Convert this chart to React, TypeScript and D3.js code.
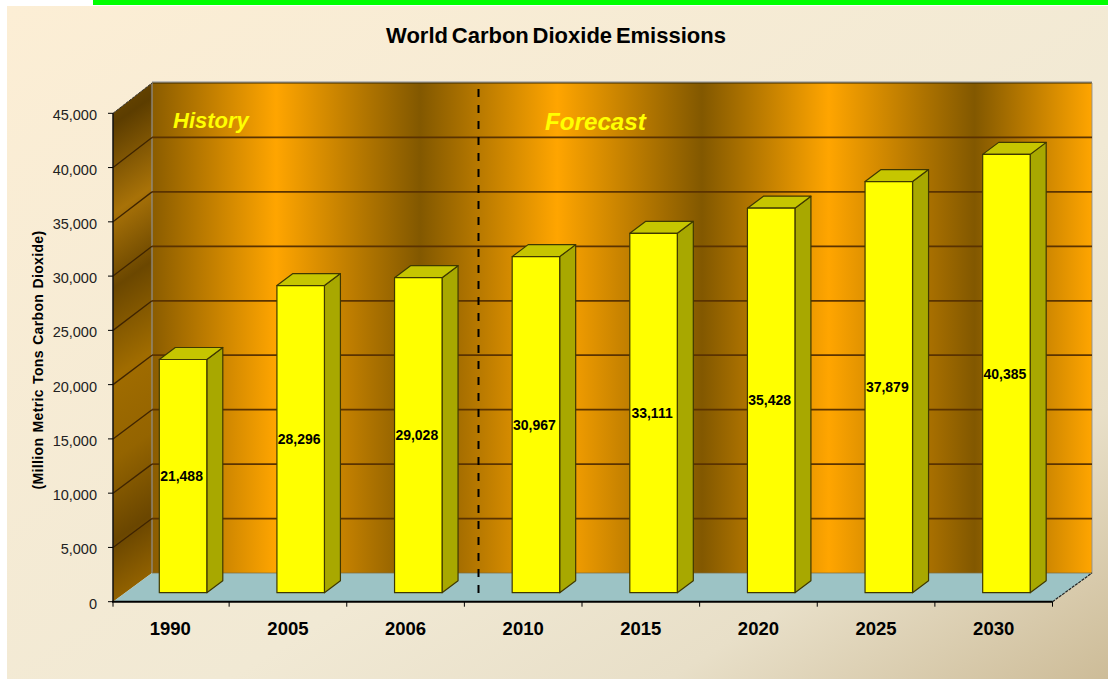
import React from "react";
import * as d3 from "d3";

// Emissions in million metric tons of carbon dioxide
const years = ["1990", "2005", "2006", "2010", "2015", "2020", "2025", "2030"];
const emissions = [21488, 28296, 29028, 30967, 33111, 35428, 37879, 40385];
const valueTicks = [0, 5000, 10000, 15000, 20000, 25000, 30000, 35000, 40000, 45000];

// Banded metal look of the back wall: offset along the wall, colour
const wallBandOffsets = [0, 0.132, 0.285, 0.431, 0.585, 0.72, 0.875, 1];
const wallBandColors = ["#8a5c00", "#ffa500", "#825800", "#ffa500", "#825800", "#ffa500", "#825800", "#ffa500"];
const sideBandOffsets = [0, 0.19, 0.31, 0.41, 0.53, 0.64, 0.75, 0.86, 1];
const sideBandColors = ["#9b6a00", "#5c3d00", "#a87208", "#6b4700", "#a06c00", "#946400", "#6a4600", "#a06c00", "#6a4600"];

const WIDTH = 1108;
const HEIGHT = 679;
const FONT = "'Liberation Sans', Arial, sans-serif";

// Floor and wall corners of the 3D box
const axisLeft = 113;
const axisRight = 1052.5;
const wallLeft = 152;
const wallRight = 1092;
const floorBack = 573;
const wallTop = 83;

// Bar geometry relative to its category band
const barInset = 47.8;
const barWidth = 47.5;
const barFloorLift = 9;
const barDepthX = 16;
const barDepthY = 12;

const xBand = d3.scaleBand<string>().domain(years).range([111.5, axisRight]);
const yFront = d3.scaleLinear().domain([0, 45000]).range([601.7, 113.3]);
const yWall = d3.scaleLinear().domain([0, 45000]).range([floorBack, wallTop]);

const poly = (pts: [number, number][]) => d3.line()(pts) + "Z";
const fmt = d3.format(",");

function Bar({ year, value }: { year: string; value: number }) {
  const x0 = (xBand(year) as number) + barInset;
  const x1 = x0 + barWidth;
  const yBase = yFront(0) - barFloorLift;
  const yTop = yFront(value) - barFloorLift;
  const stroke = { stroke: "#3f3800", strokeWidth: 1.2, strokeLinejoin: "round" as const };
  return (
    <g>
      <path
        d={poly([[x1, yTop], [x1 + barDepthX, yTop - barDepthY], [x1 + barDepthX, yBase - barDepthY], [x1, yBase]])}
        fill="#a8a800"
        {...stroke}
      />
      <path
        d={poly([[x0, yTop], [x0 + barDepthX, yTop - barDepthY], [x1 + barDepthX, yTop - barDepthY], [x1, yTop]])}
        fill="#c6c600"
        {...stroke}
      />
      <rect x={x0} y={yTop} width={barWidth} height={yBase - yTop} fill="#ffff00" {...stroke} />
      <text
        x={(x0 + x1) / 2 - 1.5}
        y={(yTop + yBase) / 2 + 5}
        textAnchor="middle"
        fontFamily={FONT}
        fontWeight="bold"
        fontSize={14}
        fill="#000"
      >
        {fmt(value)}
      </text>
    </g>
  );
}

export default function App() {
  return (
    <svg
      width={WIDTH}
      height={HEIGHT}
      viewBox={`0 0 ${WIDTH} ${HEIGHT}`}
      style={{ position: "absolute", left: 0, top: 0, display: "block" }}
    >
      <defs>
        <linearGradient id="panel" x1="0" y1="0" x2="1" y2="1">
          <stop offset="0" stopColor="#fceed5" />
          <stop offset="0.6" stopColor="#f1e9d4" />
          <stop offset="0.8" stopColor="#e8dfc8" />
          <stop offset="1" stopColor="#cdbc98" />
        </linearGradient>
        <linearGradient id="wall" gradientUnits="userSpaceOnUse" x1={wallLeft} y1="0" x2={wallRight} y2="0">
          {wallBandOffsets.map((o, i) => (
            <stop key={i} offset={o} stopColor={wallBandColors[i]} />
          ))}
        </linearGradient>
        <linearGradient id="sideWall" gradientUnits="userSpaceOnUse" x1="-40" y1="90" x2="310" y2="590">
          {sideBandOffsets.map((o, i) => (
            <stop key={i} offset={o} stopColor={sideBandColors[i]} />
          ))}
        </linearGradient>
      </defs>

      <rect x={7} y={6} width={WIDTH - 7} height={HEIGHT - 6} fill="url(#panel)" />
      <rect x={93} y={0} width={WIDTH - 93} height={5} fill="#00ff00" />

      <text
        x={556}
        y={43}
        textAnchor="middle"
        fontFamily={FONT}
        fontWeight="bold"
        fontSize={22}
        wordSpacing={-2.3}
        fill="#000"
      >
        World Carbon Dioxide Emissions
      </text>

      {/* Box: side wall, back wall, floor */}
      <path
        d={poly([[axisLeft, yFront(45000)], [wallLeft, wallTop], [wallLeft, floorBack], [axisLeft, yFront(0)]])}
        fill="url(#sideWall)"
      />
      <rect x={wallLeft} y={wallTop} width={wallRight - wallLeft} height={floorBack - wallTop} fill="url(#wall)" />
      <path
        d={poly([[axisLeft, yFront(0)], [wallLeft, floorBack], [wallRight, floorBack], [axisRight, yFront(0)]])}
        fill="#9cc3c5"
      />
      <line x1={wallLeft} x2={wallRight} y1={wallTop - 1} y2={wallTop - 1} stroke="#a9a9a9" strokeWidth={1.5} />
      <line x1={wallLeft} x2={wallRight} y1={wallTop} y2={wallTop} stroke="#3a2a00" strokeWidth={1} />
      <line x1={wallLeft} x2={wallLeft} y1={wallTop} y2={floorBack} stroke="#8f8f8f" strokeOpacity={0.6} strokeWidth={2} />
      <line x1={wallRight} x2={wallRight} y1={wallTop} y2={floorBack} stroke="#8f8f8f" strokeOpacity={0.6} strokeWidth={1.5} />
      <line x1={wallLeft} x2={wallRight} y1={floorBack} y2={floorBack} stroke="#7a6a40" strokeOpacity={0.7} strokeWidth={1} />
      <line x1={axisRight} y1={yFront(0)} x2={wallRight} y2={floorBack} stroke="#222" strokeWidth={1.2} strokeDasharray="3 1" />
      <line x1={axisLeft} y1={yFront(45000)} x2={wallLeft} y2={wallTop} stroke="#333" strokeWidth={1} strokeDasharray="3 1" />

      {/* Gridlines, running along the side wall and then the back wall */}
      {valueTicks.slice(1, -1).map((v) => (
        <g key={v} fill="none">
          <line x1={axisLeft} y1={yFront(v)} x2={wallLeft} y2={yWall(v)} stroke="#3f2400" strokeWidth={1.3} />
          <line x1={wallLeft} x2={wallRight} y1={yWall(v)} y2={yWall(v)} stroke="#5a3300" strokeWidth={1.8} />
        </g>
      ))}

      {/* Divider between the history and forecast periods */}
      <line x1={478.5} x2={478.5} y1={89} y2={596} stroke="#000" strokeWidth={2} strokeDasharray="8 8" />

      <text x={173} y={128} fontFamily={FONT} fontWeight="bold" fontStyle="italic" fontSize={22} fill="#ffff00">
        History
      </text>
      <text x={545} y={130} fontFamily={FONT} fontWeight="bold" fontStyle="italic" fontSize={24.2} fill="#ffff00">
        Forecast
      </text>

      {years.map((y, i) => (
        <Bar key={y} year={y} value={emissions[i]} />
      ))}

      {/* Value axis */}
      <line x1={axisLeft} x2={axisLeft} y1={yFront(45000)} y2={yFront(0)} stroke="#111" strokeWidth={1.5} />
      {valueTicks.map((v) => (
        <g key={v}>
          <line x1={axisLeft - 5} x2={axisLeft} y1={yFront(v)} y2={yFront(v)} stroke="#000" strokeWidth={1} />
          <text x={97} y={yFront(v) + 7} textAnchor="end" fontFamily={FONT} fontSize={14.5} fill="#222">
            {fmt(v)}
          </text>
        </g>
      ))}
      <text
        transform={`translate(42.5,360) rotate(-90)`}
        textAnchor="middle"
        fontFamily={FONT}
        fontWeight="bold"
        fontSize={14}
        letterSpacing={0.35}
        wordSpacing={1}
        fill="#000"
      >
        (Million Metric Tons Carbon Dioxide)
      </text>

      {/* Category axis */}
      <line x1={axisLeft - 1} x2={axisRight} y1={yFront(0)} y2={yFront(0)} stroke="#000" strokeWidth={2} />
      {[axisLeft, ...years.slice(1).map((y) => xBand(y) as number), axisRight].map((x, i) => (
        <line key={i} x1={x} x2={x} y1={yFront(0)} y2={yFront(0) + 5} stroke="#000" strokeWidth={1} />
      ))}
      {years.map((y) => (
        <text
          key={y}
          x={(xBand(y) as number) + xBand.bandwidth() / 2}
          y={635}
          textAnchor="middle"
          fontFamily={FONT}
          fontWeight="bold"
          fontSize={18.5}
          fill="#000"
        >
          {y}
        </text>
      ))}
    </svg>
  );
}
